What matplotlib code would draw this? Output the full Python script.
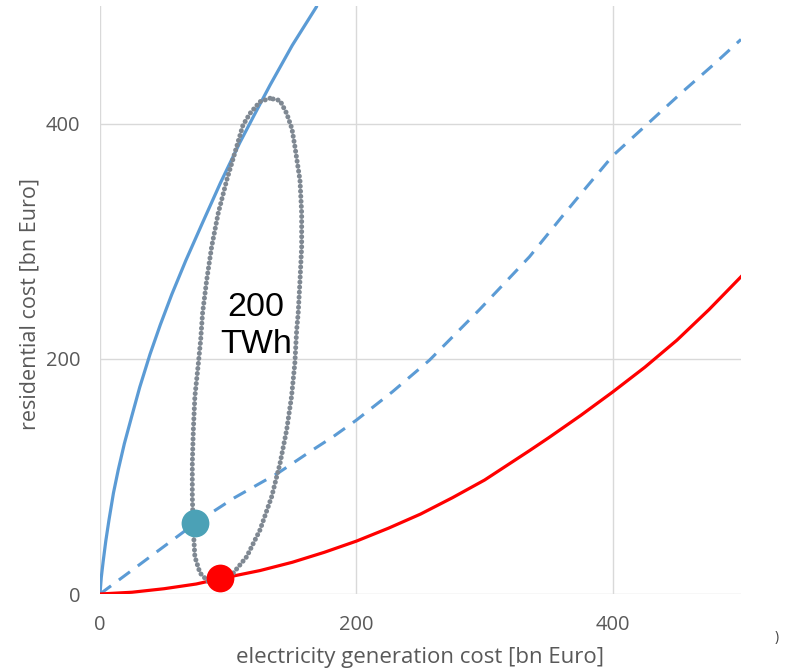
import matplotlib
matplotlib.use("Agg")
import matplotlib.pyplot as plt

# ---- data ----
blue_x = [0, 1, 2.5, 4.5, 7, 10.5, 14.3, 19, 24.7, 31, 39, 47, 56, 67, 80, 94, 109, 120,
          132.6, 150, 169]
blue_y = [0, 14, 28, 45, 63, 86, 106, 128, 151, 176, 204, 229, 255, 284, 316, 350, 384, 407,
          433, 467, 500]

dash_x = [0, 37, 74, 105, 139, 165, 182, 200, 228, 257, 296, 335, 361, 380, 400, 413, 430,
          455, 478, 500]
dash_y = [0, 30, 60, 82, 103, 122, 134, 148, 172, 199, 242, 287, 322, 347, 373, 386, 403,
          428, 450, 472]

red_x = [0, 25, 50, 75, 93.6, 125, 150, 175, 200, 225, 250, 275, 300, 335, 350, 375, 400,
         425, 450, 475, 500]
red_y = [0, 1.5, 4.5, 8.5, 13, 20, 27, 35.5, 45, 56, 68, 82, 97, 122, 133, 152, 172, 193,
         216, 242, 270]

ell_x = [132.6, 124.8, 117, 111.5, 106.6, 98.8, 92.2, 87.1, 83.2, 80, 78.5, 76.7, 74, 72.8,
         72, 72, 72.8, 74, 78, 84.5, 92.3, 104, 114.4, 124.8, 133.9, 140.4, 145.6, 149.4,
         152, 153.4, 154.6, 156, 157.3, 157.3, 156, 152, 149.7, 145.6, 140.4, 132.6]
ell_y = [421.9, 419, 409, 399, 380.7, 352, 324, 295.6, 267, 239, 216, 196, 168, 139.6, 111,
         82.8, 54.5, 31.7, 17.9, 10.5, 7.7, 17.9, 31.7, 54.5, 82.8, 111, 139.6, 168, 196.6,
         224.7, 239, 267, 295.6, 324, 352, 381, 396, 409, 420, 421.9]

teal_pt = (74.1, 60.2)
red_pt = (93.6, 13.4)

x_ticks = [0, 200, 400]
y_ticks = [0, 200, 400]

# ---- figure ----
fig = plt.figure(figsize=(7.88, 6.70), dpi=100)
ax = fig.add_axes([100 / 788, (670 - 594) / 670, 641 / 788, 587.5 / 670])

ax.set_xlim(0, 500)
ax.set_ylim(0, 500)

for s in ax.spines.values():
    s.set_visible(False)
grid_c = "#d9d9d9"
for v in x_ticks:
    ax.axvline(v, color=grid_c, lw=1.0, zorder=0)
for v in y_ticks:
    ax.axhline(v, color=grid_c, lw=1.0, zorder=0)

ax.plot(blue_x, blue_y, color="#5b9bd5", lw=2.3, solid_capstyle="round",
        solid_joinstyle="round", zorder=3)
ax.plot(dash_x, dash_y, color="#5b9bd5", lw=2.2, dashes=(4.5, 3.2), zorder=3)
ax.plot(red_x, red_y, color="#ff0000", lw=2.3, solid_joinstyle="round", zorder=3)
ax.plot(ell_x, ell_y, color="#7f8892", lw=3.6, linestyle=(0, (0.01, 1.0)),
        dash_capstyle="round", zorder=4)

ax.plot([teal_pt[0]], [teal_pt[1]], "o", ms=20, color="#4ba1b6", mec="none", zorder=5)
ax.plot([red_pt[0]], [red_pt[1]], "o", ms=20, color="#ff0000", mec="none", zorder=5)

ax.text(121.5, 228, "200\nTWh", ha="center", va="center", fontsize=24.5,
        family="Liberation Sans", linespacing=1.22, zorder=6)

tick_font = dict(family="Open Sans", size=14.5, color="#595959")
ax.set_xticks(x_ticks)
ax.set_yticks(y_ticks)
ax.set_xticklabels([str(v) for v in x_ticks], **tick_font)
ax.set_yticklabels([str(v) for v in y_ticks], **tick_font)
ax.tick_params(axis="both", length=0)
ax.tick_params(axis="x", pad=15)
ax.tick_params(axis="y", pad=14)

ax.set_xlabel("electricity generation cost [bn Euro]", family="Open Sans",
              fontsize=16, color="#595959")
ax.xaxis.set_label_coords(320 / 641, -(657 - 594) / 587.5)
ax.xaxis.label.set_va("center")
ax.set_ylabel("residential cost [bn Euro]", family="Open Sans",
              fontsize=15.5, color="#595959")
ax.yaxis.set_label_coords(-(100 - 30) / 641, (594 - 304) / 587.5)
ax.yaxis.label.set_va("center")

fig.text(777 / 788, 1 - 638 / 670, ")", ha="center", va="center",
         family="Open Sans", fontsize=10, color="#404040")

fig.savefig("out.png", dpi=100)
